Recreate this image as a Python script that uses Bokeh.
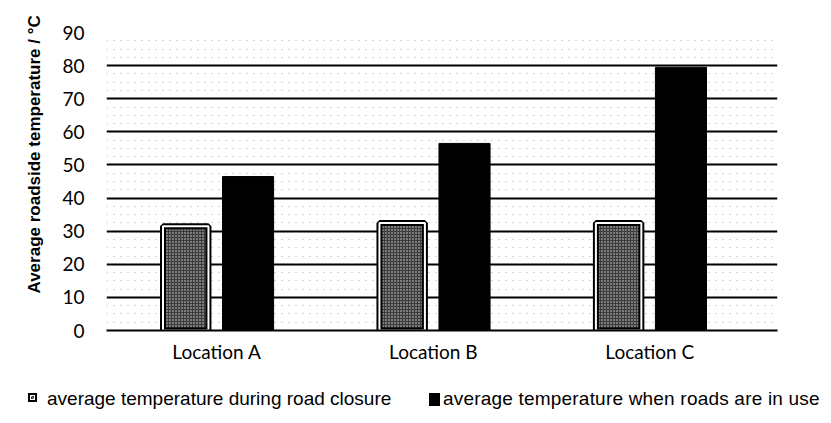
from bokeh.plotting import figure
from bokeh.layouts import column
from bokeh.models import (ColumnDataSource, Range1d, FixedTicker, Title, Div)
from bokeh.transform import dodge
from bokeh.embed import file_html
from bokeh.resources import INLINE

categories = ["Location A", "Location B", "Location C"]
closure_temp = [31.5, 32.5, 32.5]
in_use_temp = [46.5, 56.5, 79.5]
y_ticks = [0, 10, 20, 30, 40, 50, 60, 70, 80, 90]
series_names = ["average temperature during road closure",
                "average temperature when roads are in use"]
y_title = "Average roadside temperature / °C"

idx = list(range(len(categories)))
src = ColumnDataSource(dict(x=idx, closure=closure_temp, in_use=in_use_temp))

p = figure(width=831, height=378, output_backend="svg", toolbar_location=None,
           x_range=Range1d(-0.51, 2.59), y_range=Range1d(0, 90),
           min_border_left=106, min_border_right=54, min_border_top=32,
           min_border_bottom=48)
p.outline_line_color = None
p.background_fill_color = "white"
p.border_fill_color = "white"

bw = 0.236
p.vbar(x=dodge("x", -0.144, range=p.x_range), top="closure", width=bw - 0.026, source=src,
       fill_color="#3c3c3c", line_color="black", line_width=6,
       hatch_pattern="dot", hatch_color="#d8d8d8", hatch_scale=3, hatch_weight=1)
p.vbar(x=dodge("x", -0.144, range=p.x_range), top="closure", width=bw - 0.026, source=src,
       fill_color=None, line_color="white", line_width=2)
p.vbar(x=dodge("x", 0.144, range=p.x_range), top="in_use", width=bw, source=src,
       fill_color="black", line_color="black")

# y axis
p.yaxis.ticker = FixedTicker(ticks=y_ticks,
                             minor_ticks=[t + d for t in y_ticks[:-1] for d in (2.5, 5, 7.5)])
p.yaxis.axis_line_color = None
p.yaxis.major_tick_line_color = None
p.yaxis.minor_tick_line_color = None
p.yaxis.major_tick_out = 0
p.yaxis.major_label_standoff = 18
p.yaxis.major_label_text_font = "Lato"
p.yaxis.major_label_text_font_size = "19px"
p.yaxis.major_label_text_color = "black"

p.ygrid.grid_line_color = "black"
p.ygrid.grid_line_width = 2
p.ygrid.minor_grid_line_color = "#666666"
p.ygrid.minor_grid_line_alpha = 0.55
p.ygrid.minor_grid_line_dash = "1 6"
p.xgrid.grid_line_color = None

# x axis
p.xaxis.ticker = FixedTicker(ticks=idx)
p.xaxis.major_label_overrides = {i: c for i, c in zip(idx, categories)}
p.xaxis.axis_line_color = "black"
p.xaxis.axis_line_width = 2
p.xaxis.major_tick_line_color = None
p.xaxis.minor_tick_line_color = None
p.xaxis.major_tick_out = 0
p.xaxis.major_label_standoff = 9
p.xaxis.major_label_text_font = "Lato"
p.xaxis.major_label_text_font_size = "19px"
p.xaxis.major_label_text_color = "black"

# spacer between tick labels and the axis title
p.add_layout(Title(text="\u00a0", text_font_size="8px", standoff=0), "left")
p.add_layout(Title(text=y_title, align="left", offset=37,
                   text_font="Liberation Sans", text_font_size="17px",
                   text_font_style="bold", text_color="black"), "left")

# legend strip (HTML text with drawn keys)
key1 = ("position:absolute;left:28px;top:15px;width:9px;height:9px;"
        "border:2px solid #000;box-shadow:inset 0 0 0 1px #fff;"
        "background:repeating-linear-gradient(45deg,#2a2a2a 0 1px,#9a9a9a 1px 2px);")
key2 = "position:absolute;left:429px;top:15px;width:11px;height:13px;background:#000;"
txt = ("position:absolute;top:10px;white-space:nowrap;line-height:22px;"
       "font-family:'Liberation Sans',Arial,sans-serif;font-size:19px;color:#000;")
html = (f'<div style="position:relative;width:831px;height:45px;">'
        f'<span style="{key1}"></span>'
        f'<span style="{txt}left:47px;">{series_names[0]}</span>'
        f'<span style="{key2}"></span>'
        f'<span style="{txt}left:443px;letter-spacing:0.2px;">{series_names[1]}</span>'
        f'</div>')
legend_div = Div(text=html, width=831, height=45, margin=0)

open("out.html", "w").write(file_html(column(p, legend_div, spacing=0), INLINE))
